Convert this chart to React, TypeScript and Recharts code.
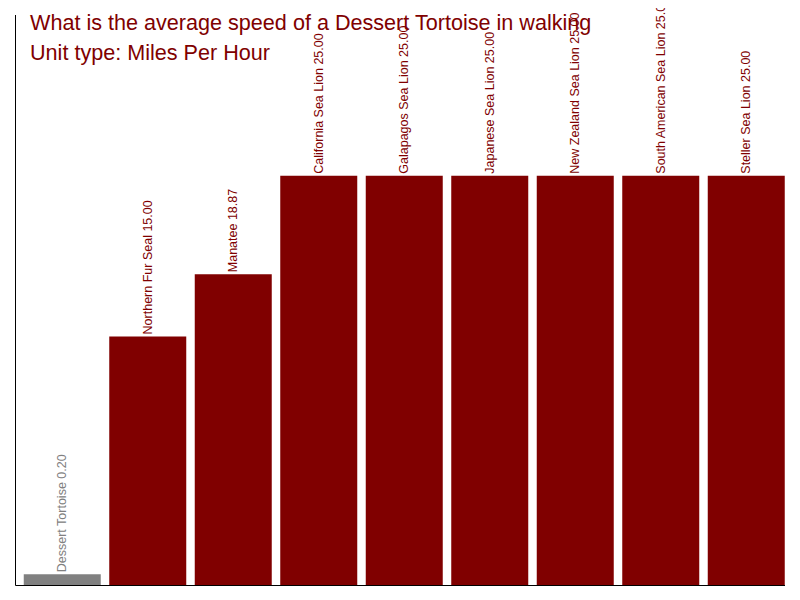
import React from 'react';
import { BarChart, Bar, XAxis, YAxis, Cell, LabelList } from 'recharts';

const animals = [
  'Dessert Tortoise',
  'Northern Fur Seal',
  'Manatee',
  'California Sea Lion',
  'Galapagos Sea Lion',
  'Japanese Sea Lion',
  'New Zealand Sea Lion',
  'South American Sea Lion',
  'Steller Sea Lion',
];
const speeds = [0.2, 15, 18.87, 25, 25, 25, 25, 25, 25];
const highlighted = 'Dessert Tortoise';

const yMin = -0.5;
const yMax = 35;

const data = animals.map((name, i) => ({ name, value: speeds[i] }));

const RED = '#800000';
const GREY = '#808080';
const FONT = "'Liberation Sans', Arial, sans-serif";

const BarLabel = (props: any) => {
  const { x, y, width, index } = props;
  const d = data[index];
  const cx = x + width / 2 + 4;
  const ty = y - 2;
  return (
    <text
      x={cx}
      y={ty}
      transform={`rotate(-90, ${cx}, ${ty})`}
      textAnchor="start"
      fontSize={12.5}
      fontFamily={FONT}
      fill={d.name === highlighted ? GREY : RED}
    >
      {`${d.name} ${d.value.toFixed(2)}`}
    </text>
  );
};

const App = () => {
  return (
    <div style={{ position: 'relative', width: 784, height: 584 }}>
      <BarChart
        width={784}
        height={584}
        data={data}
        margin={{ top: 7, right: 7, bottom: 5.5, left: 6.5 }}
        barSize={77}
      >
        <XAxis
          dataKey="name"
          tick={false}
          tickLine={false}
          height={1}
          axisLine={{ stroke: '#000' }}
          padding={{ left: 4.25, right: -4.25 }}
        />
        <YAxis
          type="number"
          domain={[yMin, yMax]}
          tick={false}
          tickLine={false}
          width={1}
          axisLine={{ stroke: '#000' }}
        />
        <Bar dataKey={(d: any) => [yMin, d.value]} isAnimationActive={false}>
          {data.map((d, i) => (
            <Cell key={`cell-${i}`} fill={d.name === highlighted ? GREY : RED} />
          ))}
          <LabelList content={BarLabel} />
        </Bar>
      </BarChart>
      <div
        style={{
          position: 'absolute',
          left: 22,
          top: 0,
          color: RED,
          fontFamily: FONT,
          fontSize: 21.6,
          lineHeight: '30px',
          pointerEvents: 'none',
        }}
      >
        <div>What is the average speed of a Dessert Tortoise in walking</div>
        <div>Unit type: Miles Per Hour</div>
      </div>
    </div>
  );
};

export default App;
